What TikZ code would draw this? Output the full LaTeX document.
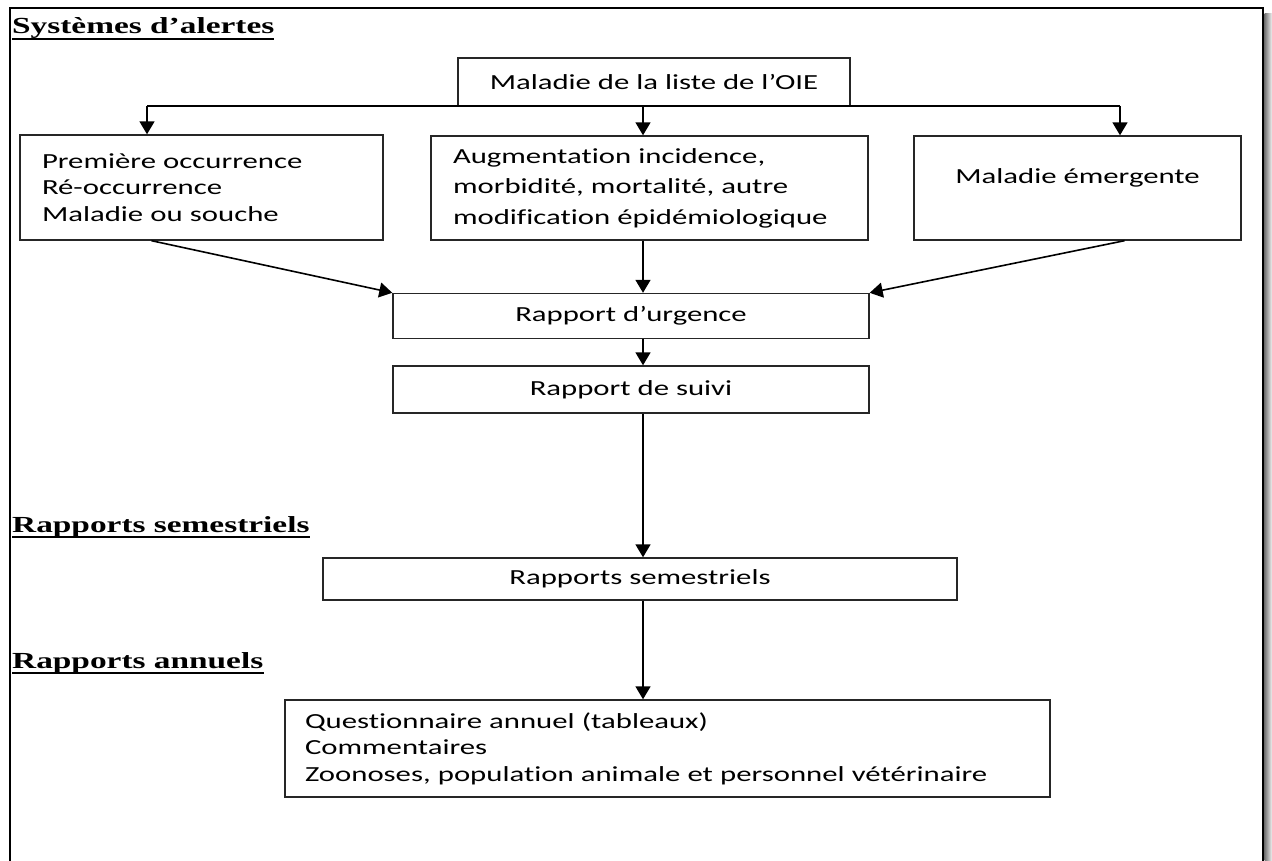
\documentclass[tikz,border=0pt]{standalone}
\usepackage{fontspec}
\newfontfamily\boxfont[FakeStretch=1.43,Ligatures={TeX,NoCommon}]{Carlito}
\newfontfamily\headfont[FakeStretch=1.45]{Liberation Serif}
\usepackage{tikz}
\usetikzlibrary{arrows.meta}
\usetikzlibrary{calc}

\begin{document}
\begin{tikzpicture}[x=1pt,y=-1pt,
    box/.style={draw=black!85, line width=1.4pt, inner sep=0pt, font=\boxfont\fontsize{21.5}{26.5}\selectfont},
    head/.style={anchor=base west, inner sep=0pt, font=\headfont\bfseries\fontsize{23}{27}\selectfont},
    arr/.style={-{Triangle[width=15pt,length=13pt]}, line width=1.6pt},
    link/.style={line width=1.6pt}]
        \useasboundingbox (0,0) rectangle (1272,861);
        \draw[line width=2.8pt](10,863)--(10,8)--(1263,8)--(1263,863);
        \shade[left color=black!55, right color=black!5](1264.5,14) rectangle (1272,861);
        \node[head] (hsys) at (12,34){Systèmes d’alertes};
        \node[head] (hsem) at (12,532){Rapports semestriels};
        \node[head] (hann) at (12,668){Rapports annuels};
        \draw[line width=2.2pt]($(hsys.base west)+(0,5)$)--($(hsys.base east)+(0,5)$);
        \draw[line width=2.2pt]($(hsem.base west)+(0,5)$)--($(hsem.base east)+(0,5)$);
        \draw[line width=2.2pt]($(hann.base west)+(0,5)$)--($(hann.base east)+(0,5)$);
        \node[box, minimum width=392, minimum height=48] (oie) at (654,82){Maladie de la liste de l’OIE};
        \node[box, align=left, inner xsep=22pt, text width=319, minimum height=105] (prem) at (201.5,187.5){Première occurrence\\Ré-occurrence\\Maladie ou souche};
        \node[box, align=left, inner xsep=22pt, text width=393, minimum height=104, font=\boxfont\fontsize{21.5}{30.5}\selectfont] (mid) at (649.5,188){Augmentation incidence,\\morbidité, mortalité, autre\\modification épidémiologique};
        \node[box, minimum width=327, text height=48, text depth=56] (emerg) at (1077.5,188){Maladie émergente};
        \node[box, minimum width=476, minimum height=45] (urg) at (631,316){Rapport d’urgence};
        \node[box, minimum width=476, minimum height=47] (suivi) at (631,389.5){Rapport de suivi};
        \node[box, minimum width=634, minimum height=42] (sem) at (640,579){Rapports semestriels};
        \node[box, align=left, inner xsep=20pt, text width=725, minimum height=97] (ann) at (667.5,748.5){Questionnaire annuel (tableaux)\\Commentaires\\Zoonoses, population animale et personnel vétérinaire};
        \coordinate (busL) at (147,106);
        \coordinate (busM) at (643,106);
        \coordinate (busR) at (1120,106);
        \draw[link](busL)--(busR);
        \draw[arr](busL)--(busL |- prem.north);
        \draw[arr](busM)--(busM |- mid.north);
        \draw[arr](busR)--(busR |- emerg.north);
        \draw[arr]([xshift=-50pt]prem.south)--(urg.north west);
        \draw[arr]([xshift=47pt]emerg.south)--(urg.north east);
        \draw[arr](busM |- mid.south)--(busM |- urg.north);
        \draw[arr](busM |- urg.south)--(busM |- suivi.north);
        \draw[arr](busM |- suivi.south)--(busM |- sem.north);
        \draw[arr](busM |- sem.south)--(busM |- ann.north);
    \end{tikzpicture}
\end{document}
